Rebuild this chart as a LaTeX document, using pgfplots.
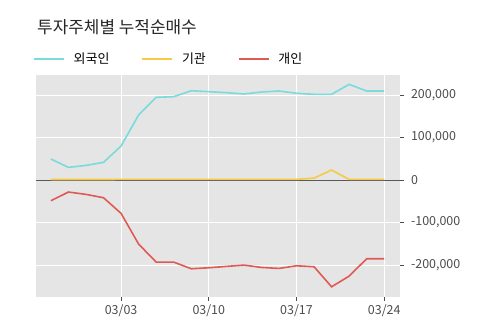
\documentclass[border=0pt]{standalone}
\usepackage{pgfplots}
\pgfplotsset{compat=1.18}
\usepackage{fontspec}
\setmainfont{Noto Sans CJK KR}
\definecolor{cfor}{HTML}{79DBDB}
\definecolor{cins}{HTML}{F6CA45}
\definecolor{cind}{HTML}{E05A55}
\definecolor{bgg}{HTML}{E5E5E5}
\definecolor{tk}{HTML}{4D4D4D}
\begin{document}
\begin{tikzpicture}
\useasboundingbox (0,0) rectangle (500bp,323bp);
\node[anchor=base west, font=\fontsize{17}{17}\selectfont, text=black!85, inner sep=0pt] at (37bp,289bp) {투자주체별 누적순매수};
\begin{axis}[
  at={(36bp,26bp)}, anchor=south west,
  scale only axis, width=364bp, height=222bp,
  xmin=-0.85, xmax=19.9,
  ymin=-275000, ymax=247000,
  axis background/.style={fill=bgg},
  axis line style={draw=none},
  grid=major, major grid style={white, line width=0.9bp},
  xtick={4,9,14,19}, xticklabels={03/03,03/10,03/17,03/24},
  ytick={-200000,-100000,0,100000,200000},
  ytick pos=right, yticklabel pos=right,
  xtick pos=bottom,
  tick align=outside, major tick length=3.5bp,
  tick style={color=tk, line width=0.6bp},
  scaled y ticks=false,
  /pgf/number format/assume math mode=true,
  /pgf/number format/1000 sep={,},
  /pgf/number format/fixed,
  ticklabel style={font=\fontsize{12.5}{12.5}\selectfont, text=tk},
  xticklabel style={yshift=-1bp},
  yticklabel style={xshift=4bp},
  legend style={draw=none, fill=none, inner sep=0pt, outer sep=0pt,
    at={(axis description cs:-0.008,1.072)}, anchor=west,
    font=\fontsize{13}{13}\selectfont,
    /tikz/every odd column/.append style={column sep=8bp},
    /tikz/every even column/.append style={column sep=31bp},
    nodes={inner sep=1pt}},
  legend columns=3, legend cell align=left,
  legend image code/.code={\draw[#1, line width=1.6bp] (0bp,0bp) -- (30bp,0bp);},
  clip=false,
]
\addplot[black!65, line width=0.9bp, forget plot] coordinates {(-0.85,0) (19.9,0)};
\addplot[cfor, line width=1.6bp] coordinates {
(0,49400) (1,29800) (2,34500) (3,41600) (4,80000) (5,153000) (6,194500) (7,196000) (8,210000) (9,207800)
(10,205500) (11,202400) (12,207000) (13,209400) (14,204000) (15,201600) (16,201600) (17,225000) (18,209400) (19,209400)};
\addlegendentry{외국인}
\addplot[cins, line width=1.6bp] coordinates {
(0,1200) (1,1200) (2,1200) (3,1200) (4,1500) (5,1500) (6,1500) (7,1500) (8,1500) (9,1500)
(10,1500) (11,1500) (12,1500) (13,1500) (14,1500) (15,4500) (16,23500) (17,1500) (18,1500) (19,1500)};
\addlegendentry{기관}
\addplot[cind, line width=1.6bp] coordinates {
(0,-48600) (1,-28200) (2,-33700) (3,-41600) (4,-78400) (5,-150600) (6,-192900) (7,-192900) (8,-208600) (9,-206300)
(10,-203100) (11,-200000) (12,-205500) (13,-207800) (14,-201600) (15,-203900) (16,-251000) (17,-225900) (18,-185100) (19,-185100)};
\addlegendentry{개인}
\end{axis}
\end{tikzpicture}
\end{document}
